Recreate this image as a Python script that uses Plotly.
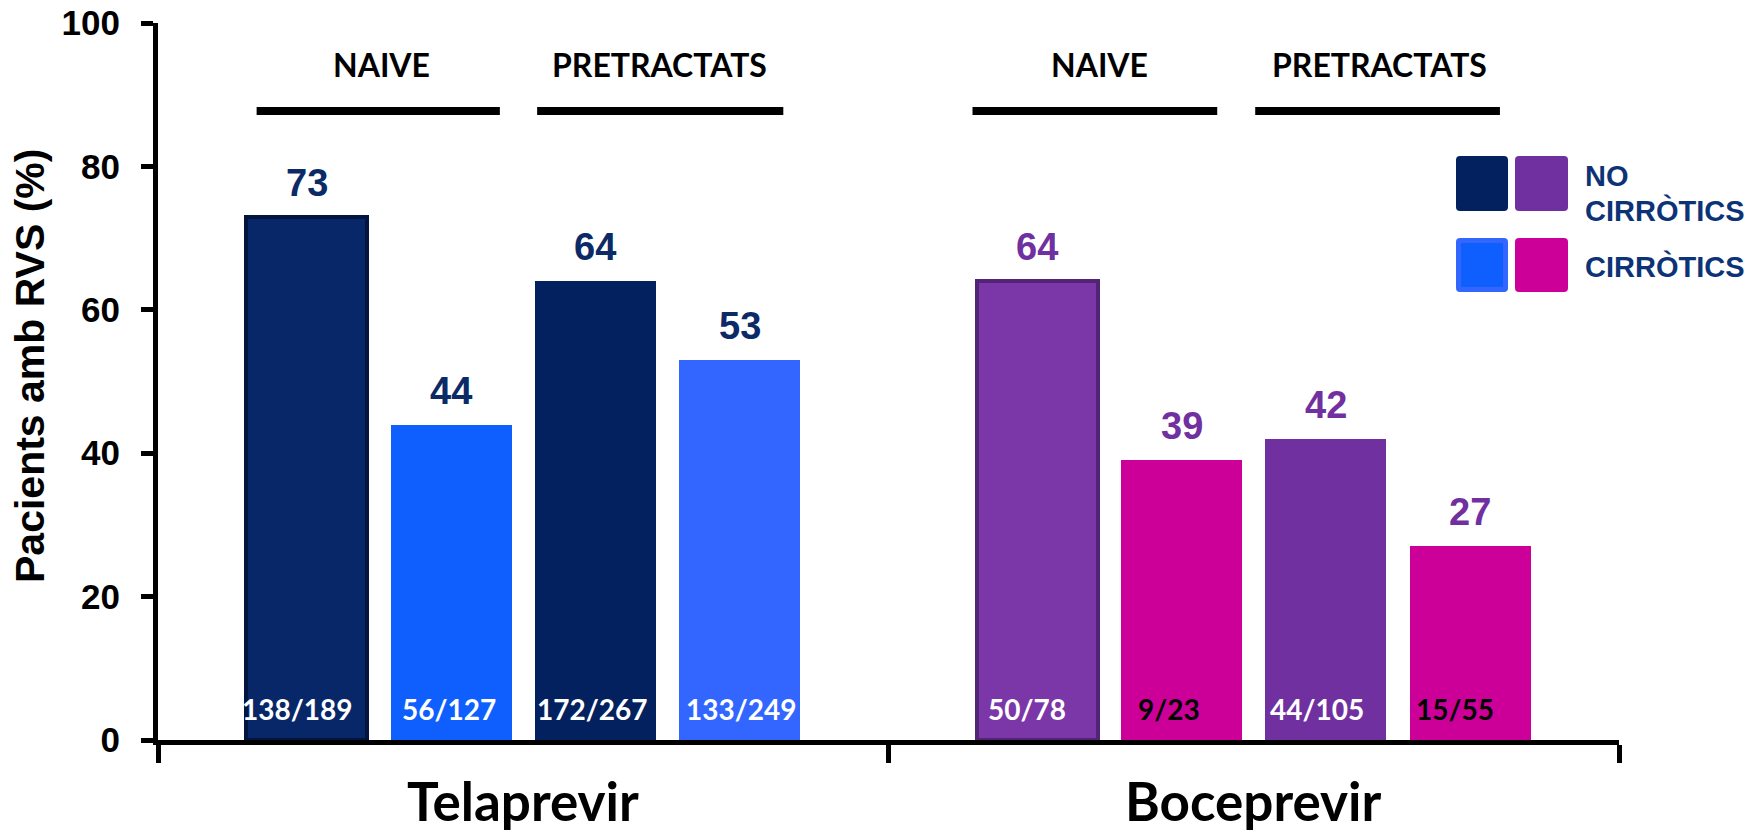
import plotly.graph_objects as go

# ---- data ----------------------------------------------------------------
drugs = ["Telaprevir", "Boceprevir"]
patient_groups = ["NAIVE", "PRETRACTATS"]
# bar order inside each drug: naive no-cirrhotic, naive cirrhotic,
# pretreated no-cirrhotic, pretreated cirrhotic
svr_telaprevir = [73, 44, 64, 53]
svr_boceprevir = [64, 39, 42, 27]
n_telaprevir = ["138/189", "56/127", "172/267", "133/249"]
n_boceprevir = ["50/78", "9/23", "44/105", "15/55"]
legend_labels = ["NO CIRRÒTICS", "CIRRÒTICS"]
y_ticks = [0, 20, 40, 60, 80, 100]
y_title = "Pacients amb RVS (%)"

# ---- styling -------------------------------------------------------------
bar_colors = [
    ["#072768", "#0F5FFF", "#03215F", "#3366FF"],
    ["#7B36A8", "#CC0099", "#7030A0", "#CC0099"],
]
edge_colors = [
    ["#03153F", None, None, None],
    ["#522476", None, None, None],
]
value_colors = ["#0B2A66", "#7030A0"]
count_colors = [
    ["white", "white", "white", "white"],
    ["white", "black", "white", "black"],
]
count_dx = [[-6, 9, 0, 5], [9, 15, 3, 4]]   # px from bar left edge

ARIAL = "Liberation Sans, Arial, sans-serif"
CALIBRI = "Lato, sans-serif"

W, H = 1762, 833
PX_L, PX_R = 158, 1619      # x pixel span of the category axis
PX_T, PX_B = 23, 740        # y pixel of 100 and 0


def pxx(x):
    return (x - PX_L) / (PX_R - PX_L)


def pxy(y):
    return (PX_B - y) / (PX_B - PX_T)


bar_offsets = [-0.2965, -0.0988, 0.0988, 0.2965]
bar_width = 0.1655

fig = go.Figure()

values_by_drug = [svr_telaprevir, svr_boceprevir]
counts_by_drug = [n_telaprevir, n_boceprevir]

xs, ys, cols, lcols, lwids = [], [], [], [], []
annotations = []
for d, drug in enumerate(drugs):
    for i, v in enumerate(values_by_drug[d]):
        x = d + 0.5 + bar_offsets[i]
        xs.append(x)
        ys.append(v)
        cols.append(bar_colors[d][i])
        ec = edge_colors[d][i]
        lcols.append(ec if ec else bar_colors[d][i])
        lwids.append(4 if ec else 0)
        # value on top of the bar
        annotations.append(dict(
            x=x, y=v, xref="x", yref="y", text=str(v), showarrow=False,
            yanchor="bottom", yshift=11,
            font=dict(family=ARIAL, size=38, color=value_colors[d], weight=700),
        ))
        # patient counts at the foot of the bar
        annotations.append(dict(
            x=x - bar_width / 2, y=0, xref="x", yref="y",
            text=counts_by_drug[d][i], showarrow=False,
            xanchor="left", yanchor="bottom", xshift=count_dx[d][i], yshift=12,
            font=dict(family=CALIBRI, size=28, color=count_colors[d][i], weight=700),
        ))
    # drug name under the axis
    annotations.append(dict(
        x=d + 0.5, y=pxy(834), xref="x", yref="paper", text=drug,
        showarrow=False, yanchor="bottom",
        font=dict(family=CALIBRI, size=53, color="black", weight=700),
    ))

fig.add_trace(go.Bar(
    x=xs, y=ys, width=bar_width,
    marker=dict(color=cols, line=dict(color=lcols, width=lwids)),
    showlegend=False, hoverinfo="skip",
))

# treatment-group headers with their bars
group_spans = [
    [(0.135, 0.468), (0.519, 0.856)],
    [(1.115, 1.450), (1.502, 1.837)],
]
group_label_x = [[0.3057, 0.6867], [1.2886, 1.6717]]
shapes = []
for d in range(len(drugs)):
    for g, name in enumerate(patient_groups):
        x0, x1 = group_spans[d][g]
        shapes.append(dict(type="line", xref="x", yref="paper", x0=x0, x1=x1,
                           y0=pxy(111), y1=pxy(111),
                           line=dict(color="black", width=8)))
        annotations.append(dict(
            x=group_label_x[d][g], y=pxy(64.5), xref="x", yref="paper",
            text=name, showarrow=False, yanchor="middle",
            font=dict(family=CALIBRI, size=32, color="black", weight=700),
        ))


def rounded_rect(x0, y0, x1, y1, r=4):
    """Rounded rectangle path in paper coordinates from pixel bounds."""
    def P(x, y):
        return f"{pxx(x):.5f},{pxy(y):.5f}"
    return (f"M {P(x0 + r, y0)} L {P(x1 - r, y0)} Q {P(x1, y0)} {P(x1, y0 + r)} "
            f"L {P(x1, y1 - r)} Q {P(x1, y1)} {P(x1 - r, y1)} "
            f"L {P(x0 + r, y1)} Q {P(x0, y1)} {P(x0, y1 - r)} "
            f"L {P(x0, y0 + r)} Q {P(x0, y0)} {P(x0 + r, y0)} Z")


# legend swatches: one per drug colour, one row per cirrhosis status
swatch_cols = [(1456, 1508), (1515, 1568)]
swatch_rows = [(156, 211), (238, 292)]
swatch_fill = [["#03215F", "#7030A0"], ["#0F5FFF", "#CC0099"]]
swatch_edge = [[None, None], ["#3366FF", None]]
for r, (ya, yb) in enumerate(swatch_rows):
    for c, (xa, xb) in enumerate(swatch_cols):
        edge = swatch_edge[r][c]
        shapes.append(dict(type="path", xref="paper", yref="paper",
                           path=rounded_rect(xa, ya, xb, yb),
                           fillcolor=edge or swatch_fill[r][c], line=dict(width=0)))
        if edge:
            shapes.append(dict(type="path", xref="paper", yref="paper",
                               path=rounded_rect(xa + 5, ya + 5, xb - 5, yb - 5, r=1),
                               fillcolor=swatch_fill[r][c], line=dict(width=0)))

legend_line_y = [[176.5, 210.5], [266]]
for r, label in enumerate(legend_labels):
    words = label.split(" ")
    for k, w in enumerate(words):
        annotations.append(dict(
            x=pxx(1583), y=pxy(legend_line_y[r][k]), xref="paper", yref="paper",
            text=w, showarrow=False, xanchor="left", yanchor="middle",
            font=dict(family=ARIAL, size=29, color="#0D3377", weight=700),
        ))

# y axis title
annotations.append(dict(
    x=pxx(30), y=pxy(366), xref="paper", yref="paper", text=y_title,
    showarrow=False, textangle=-90, xanchor="center", yanchor="middle",
    font=dict(family=ARIAL, size=41, color="black", weight=700),
))

fig.update_layout(
    width=W, height=H,
    margin=dict(l=PX_L, r=W - PX_R, t=PX_T, b=H - PX_B, pad=0, autoexpand=False),
    plot_bgcolor="white", paper_bgcolor="white",
    shapes=shapes, annotations=annotations,
    bargap=0,
)
fig.update_xaxes(
    range=[0, 2], tickvals=[0, 1, 2], ticks="outside", ticklen=18, tickwidth=5,
    tickcolor="black", showline=True, linewidth=5, linecolor="black",
    showticklabels=False, showgrid=False, zeroline=False, automargin=False,
)
fig.update_yaxes(
    range=[0, 100], tickvals=y_ticks, ticks="outside", ticklen=12, tickwidth=5,
    tickcolor="black", showline=True, linewidth=5, linecolor="black",
    showgrid=False, zeroline=False, ticklabelstandoff=14, automargin=False,
    tickfont=dict(family=ARIAL, size=35, color="black", weight=700),
)

fig.write_html("out.html")
